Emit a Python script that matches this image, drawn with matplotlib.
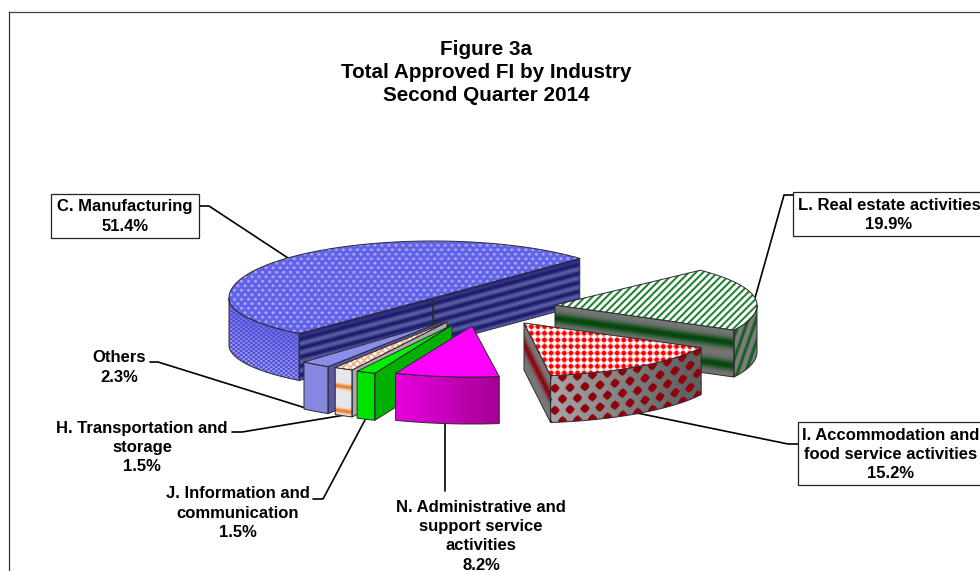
import numpy as np
import matplotlib
matplotlib.use("Agg")
import matplotlib.pyplot as plt
from matplotlib.patches import Polygon, Rectangle

plt.rcParams["font.family"] = ["Liberation Sans", "DejaVu Sans"]

title_lines = ["Figure 3a", "Total Approved FI by Industry", "Second Quarter 2014"]

# slices in drawing order around the pie, counter clockwise
categories = ["C. Manufacturing", "Others", "H. Transportation and storage",
              "J. Information and communication",
              "N. Administrative and support service activities",
              "I. Accommodation and food service activities",
              "L. Real estate activities"]
shares = [51.4, 2.3, 1.5, 1.5, 8.2, 15.2, 19.9]

labels = ["C. Manufacturing\n51.4%", "Others\n2.3%",
          "H. Transportation and\nstorage\n1.5%",
          "J. Information and\ncommunication\n1.5%",
          "N. Administrative and\nsupport service\nactivities\n8.2%",
          "I. Accommodation and\nfood service activities\n15.2%",
          "L. Real estate activities\n19.9%"]

START_ANGLE = 44.0
DEPTH = 47

# pie geometry per slice: apex x, apex y, x radius, back y radius, front y radius
apex_x = [433, 441, 447, 452, 472, 524, 555]
apex_y = [298, 322, 322, 325, 326, 323, 305]
rad_x = [204, 209, 207, 207, 205, 200, 202]
rad_back = [57, 53, 54, 52, 51, 53, 50]
rad_front = [47, 53, 54, 52, 51, 53, 54]

# label centre, first line centre y
label_x = [125, 119, 142, 238, 481, 891, 889]
label_y = [207, 358, 428, 494, 507, 435, 205]

# leader polylines
leaders = [[(199, 206), (209, 206), (288, 258)],
           [(150, 362), (158, 362), (312, 410)],
           [(232, 432), (242, 432), (345, 415)],
           [(313, 499), (323, 499), (365, 420)],
           [(445, 420), (445, 491)],
           [(637, 413), (788, 444), (798, 444)],
           [(793, 195), (784, 195), (755, 298)]]

boxes = {0: (51, 194, 148, 44), 5: (798, 422, 190, 63), 6: (793, 192, 195, 44)}


def mix(c1, c2, m):
    c1, c2 = np.array(c1, float), np.array(c2, float)
    return c1 + (c2 - c1) * m[..., None]


def soft(d, r, w=0.12):
    return np.clip((r - d) / w + 0.5, 0, 1)


# textures, all get pixel grids X, Y and V (distance below the top edge)
def man_top(X, Y, V):
    row = np.floor(Y / 4.5)
    u = (X / 7.0 + 0.5 * (row % 2)) % 1 - 0.5
    v = (Y / 4.5) % 1 - 0.5
    return mix((98, 98, 232), (178, 178, 246), soft(np.hypot(u, v * 0.7), 0.2, 0.2))


def man_rim(X, Y, V):
    m = (0.5 + 0.5 * np.sin(2 * np.pi * X / 5) * np.sin(2 * np.pi * Y / 4))
    m = m ** 2 * (0.35 + 0.5 * np.clip(V / DEPTH, 0, 1))
    return mix((78, 78, 218), (225, 225, 250), m)


def man_face(X, Y, V):
    m = 0.5 + 0.5 * np.sin(2 * np.pi * V / 9.0 + 0.6)
    m = m * np.clip(V / 6, 0, 1)
    return mix((28, 28, 110), (92, 92, 160), m)


def real_top(X, Y, V):
    u = ((X + Y) / 7.2) % 1
    return mix((255, 255, 255), (32, 130, 48), soft(np.abs(u - 0.5), 0.2, 0.2))


def real_face(X, Y, V):
    m = np.exp(-((V / DEPTH - 0.28) / 0.11) ** 2) + np.exp(-((V / DEPTH - 0.76) / 0.11) ** 2)
    return mix((118, 118, 118), (4, 72, 12), np.clip(m, 0, 1))


def real_arc(X, Y, V):
    u = ((X + Y * 0.35) / 8.0) % 1
    return mix((125, 125, 125), (20, 95, 28), soft(np.abs(u - 0.5), 0.2, 0.25))


def acc_top(X, Y, V):
    u = (X / 6.6) % 1 - 0.5
    v = (Y / 6.6) % 1 - 0.5
    m = soft(np.hypot(u, v), 0.36, 0.2)
    m = np.maximum(m, 0.45 * soft(np.minimum(np.abs(u), np.abs(v)), 0.12, 0.2))
    return mix((250, 250, 250), (255, 0, 0), m)


def acc_side(X, Y, V):
    m = np.exp(-((V / DEPTH - 0.45) / 0.16) ** 2)
    return mix((120, 120, 120), (140, 5, 15), m)


def acc_arc(X, Y, V):
    row = np.floor((V + 3.5) / 11.0)
    u = ((X / 15.0 + 0.5 * (row % 2)) % 1 - 0.5) * 15
    v = ((V + 3.5) / 11.0 % 1 - 0.5) * 11
    d = 0.5 * (np.abs(u) + np.abs(v)) + 0.5 * np.hypot(u, v)
    m = soft(d / 4.6, 1.0, 0.35)
    grey = np.clip(168 - (X - 548) * 0.5, 98, 168)
    base = np.dstack([grey, grey, grey])
    return base + (np.array([145.0, 0, 10]) - base) * m[..., None]


def flat(col):
    def tex(X, Y, V):
        return np.ones(X.shape + (3,)) * np.array(col, float)
    return tex


def trans_top(X, Y, V):
    u = ((X + Y) / 7.0) % 1 - 0.5
    v = ((X - Y) / 7.0) % 1 - 0.5
    m = np.maximum(soft(np.abs(u), 0.09, 0.12), soft(np.abs(v), 0.09, 0.12))
    return mix((248, 245, 240), (240, 130, 50), m)


def trans_arc(X, Y, V):
    m = np.exp(-((V / DEPTH - 0.38) / 0.05) ** 2) + np.exp(-((V / DEPTH - 0.9) / 0.05) ** 2)
    return mix((232, 232, 232), (240, 125, 40), np.clip(m, 0, 1))


def admin_arc(X, Y, V):
    m = np.clip((X - 396) / 102.0, 0, 1)
    return mix((232, 0, 222), (165, 0, 150), m)


top_tex = [man_top, flat((140, 140, 235)), trans_top, flat((0, 238, 0)),
           flat((255, 0, 255)), acc_top, real_top]
arc_tex = [man_rim, flat((135, 135, 226)), trans_arc, flat((0, 226, 0)),
           admin_arc, acc_arc, real_arc]
side_tex = [man_face, flat((88, 88, 160)), flat((170, 170, 170)), flat((0, 176, 0)),
            flat((160, 0, 150)), acc_side, real_face]

EDGE = "#2a2a33"

fig = plt.figure(figsize=(9.8, 5.71), dpi=100, facecolor="white")
ax = fig.add_axes([0, 0, 1, 1])
ax.set_xlim(0, 980)
ax.set_ylim(571, 0)
ax.axis("off")
ax.set_autoscale_on(False)


def paint(pts, tex, xs=None, ys=None, z=2):
    pts = np.asarray(pts, float)
    x0, y0 = np.floor(pts.min(axis=0)) - 1
    x1, y1 = np.ceil(pts.max(axis=0)) + 1
    X, Y = np.meshgrid(np.arange(x0, x1) + 0.5, np.arange(y0, y1) + 0.5)
    if xs is None:
        V = Y - y0
    else:
        order = np.argsort(xs)
        V = Y - np.interp(X, np.asarray(xs)[order], np.asarray(ys)[order])
    rgb = np.clip(tex(X, Y, V), 0, 255).astype(np.uint8)
    poly = Polygon(pts, closed=True, transform=ax.transData)
    im = ax.imshow(rgb, extent=[x0, x1, y1, y0], origin="upper",
                   interpolation="bilinear", zorder=z, aspect="auto")
    im.set_clip_path(poly)
    ax.add_patch(Polygon(pts, closed=True, fill=False, ec=EDGE, lw=0.7, zorder=z + 0.1))


def rim_point(i, t):
    t = np.radians(t)
    s = np.sin(t)
    b = np.where(s > 0, rad_back[i], rad_front[i])
    return apex_x[i] + rad_x[i] * np.cos(t), apex_y[i] - b * s


def draw_depth(i, xs, ys, tex, z):
    xs, ys = np.asarray(xs, float), np.asarray(ys, float)
    pts = np.r_[np.c_[xs, ys], np.c_[xs, ys + DEPTH][::-1]]
    paint(pts, tex, xs, ys, z)


# leaders first, the slices sit on top of their ends
for line in leaders:
    pts = np.array(line)
    ax.plot(pts[:, 0], pts[:, 1], color="black", lw=1.2, zorder=1, solid_capstyle="round")

# frame of the chart area
ax.plot([9, 9], [571, 12], color="#333333", lw=0.9, zorder=1)
ax.plot([9, 980], [12, 12], color="#444444", lw=0.9, zorder=1)

stops = START_ANGLE + np.r_[0, np.cumsum(shares)] * 3.6
draw_order = [0, 6, 5, 1, 2, 3, 4]

for n, i in enumerate(draw_order):
    z = 2 + n
    t0, t1 = stops[i], stops[i + 1]

    # the cut faces that look at the viewer
    if np.cos(np.radians(t0)) > 0:
        ex, ey = rim_point(i, t0)
        draw_depth(i, [apex_x[i], ex], [apex_y[i], ey], side_tex[i], z)
    if np.cos(np.radians(t1)) < 0:
        ex, ey = rim_point(i, t1)
        draw_depth(i, [ex, apex_x[i]], [ey, apex_y[i]], side_tex[i], z)

    # outer wall, only the front half of the rim shows
    a0, a1 = max(t0, 180), min(t1, 360)
    if a1 > a0:
        t = np.linspace(a0, a1, 60)
        ex, ey = rim_point(i, t)
        draw_depth(i, ex, ey, arc_tex[i], z)

    # top
    t = np.linspace(t0, t1, 120)
    ex, ey = rim_point(i, t)
    pts = np.r_[[[apex_x[i], apex_y[i]]], np.c_[ex, ey]]
    paint(pts, top_tex[i], z=z + 0.2)

    if i == 0:
        ax.plot([apex_x[i]] * 2, [apex_y[i], apex_y[i] + DEPTH], color=EDGE, lw=0.8, zorder=z + 0.1)

# label boxes
for i, (x, y, w, h) in boxes.items():
    ax.add_patch(Rectangle((x, y), w, h, fc="white", ec="#222222", lw=0.9, zorder=20))

for i, text in enumerate(labels):
    for k, line in enumerate(text.split("\n")):
        ax.text(label_x[i], label_y[i] + k * 19.4, line, ha="center", va="center",
                fontsize=11.95, fontweight="bold", color="black", zorder=21)

for k, line in enumerate(title_lines):
    ax.text(486, 49.5 + k * 23, line, ha="center", va="center", fontsize=14.9,
            fontweight="bold", color="black", zorder=21)

fig.savefig("out.png", dpi=100)
plt.close(fig)
